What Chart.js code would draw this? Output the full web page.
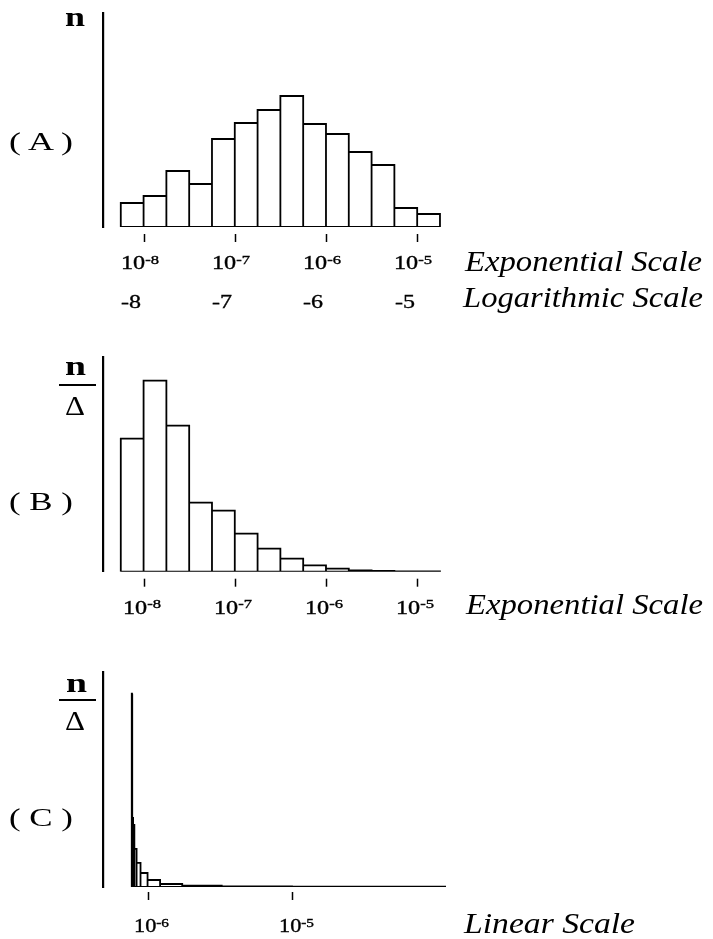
<!DOCTYPE html>
<html><head><meta charset="utf-8">
<script src="https://cdn.jsdelivr.net/npm/chart.js@4.4.1/dist/chart.umd.min.js"></script>
<style>
html,body{margin:0;padding:0;background:#fff;}
#wrap{position:relative;width:713px;height:939px;overflow:hidden;background:#fff;}
.cv{position:absolute;left:0;}
.lbl{position:absolute;white-space:nowrap;line-height:1;color:#000;transform-origin:0 0;font-family:"Liberation Serif","Times New Roman",serif;}
.tk{-webkit-text-stroke:0.35px #000;}
.bar{position:absolute;background:#000;}
</style></head><body>
<div id="wrap">
  <canvas id="cA" class="cv" width="713" height="320" style="top:0px"></canvas>
  <canvas id="cB" class="cv" width="713" height="320" style="top:320px"></canvas>
  <canvas id="cC" class="cv" width="713" height="299" style="top:640px"></canvas>
</div>
<script>
// ---- data ----
// log10 of bin edges (panels A and B)
const binEdgeExps = [-8.25,-8.0,-7.75,-7.5,-7.25,-7.0,-6.75,-6.5,-6.25,-6.0,-5.75,-5.5,-5.25,-5.0,-4.75];
// panel A: counts per bin (n)
const countsA = [24,31,56,43,88,104,117,131,103,93,75,62,19,13];
// panel B: n / Delta per bin
const densityB = [133,191,146,69,61,38,23,13,6.3,3,1.3,0.7,0.3,0.3];
// panel C: bin edges on a linear axis, and n / Delta per bin
const binEdgesC = [1.0e-8,1.78e-8,3.16e-8,5.62e-8,1.0e-7,1.78e-7,3.16e-7,5.62e-7,1.0e-6,1.78e-6,3.16e-6,5.62e-6,1.0e-5,1.78e-5,3.16e-5];
const densityC = [133,193,146,69,62,38,24,14,7,3,1.3,0.7,0.3,0.3];
// ticks
const tickExps = [-8,-7,-6,-5];
const tickSupExp = ['-8','-7','-6','-5'];
const tickLabelsLog = ['-8','-7','-6','-5'];
const tickValuesC = [1e-6,1e-5];
const tickSupC = ['-6','-5'];

function outline(edges, heights){
  const pts = [];
  for (let i=0;i<heights.length;i++){
    pts.push({x:edges[i],y:0},{x:edges[i],y:heights[i]},{x:edges[i+1],y:heights[i]},{x:edges[i+1],y:0});
  }
  pts.push({x:edges[0],y:0});
  return pts;
}

const tickMarks = {
  id:'tickMarks',
  afterDraw(chart, args, o){
    const ctx = chart.ctx, sx = chart.scales.x, y0 = chart.chartArea.bottom;
    ctx.save(); ctx.strokeStyle = '#000'; ctx.lineWidth = 1.5;
    for (const v of o.values){
      const px = Math.round(sx.getPixelForValue(v)) + 0.5;
      ctx.beginPath(); ctx.moveTo(px, y0 + o.gap); ctx.lineTo(px, y0 + o.gap + o.len); ctx.stroke();
    }
    ctx.restore();
  }
};

function makeChart(id, c){
  return new Chart(document.getElementById(id), {
    type:'line',
    data:{datasets:[{data:c.points, borderColor:'#000', borderWidth:1.8, pointRadius:0, fill:false, tension:0}]},
    options:{
      responsive:false, animation:false, events:[],
      layout:{padding:c.padding},
      plugins:{legend:{display:false}, tooltip:{enabled:false}, tickMarks:{values:c.ticks, gap:c.gap, len:8}},
      scales:{
        x:{type:'linear', min:c.xmin, max:c.xmax, grid:{display:false, drawTicks:false}, ticks:{display:false}, border:{display:false}},
        y:{type:'linear', min:0, max:c.ymax, grid:{display:false, drawTicks:false}, ticks:{display:false}, border:{display:true, color:'#000', width:2.2}}
      }
    },
    plugins:[tickMarks]
  });
}

const chA = makeChart('cA', {points:outline(binEdgeExps, countsA), padding:{left:103, right:266, top:13, bottom:93},
  xmin:-8.445, xmax:-4.673, ymax:214, ticks:tickExps, gap:7});
const chB = makeChart('cB', {points:outline(binEdgeExps, densityB), padding:{left:103, right:266, top:36.7, bottom:68.3},
  xmin:-8.445, xmax:-4.673, ymax:215, ticks:tickExps, gap:7});
const chC = makeChart('cC', {points:outline(binEdgesC, densityC), padding:{left:103, right:267, top:31.7, bottom:52},
  xmin:-1.776e-6, xmax:1.9595e-5, ymax:215, ticks:tickValuesC, gap:5});

// ---- text ----
const wrap = document.getElementById('wrap');
function addText(html, o){
  const d = document.createElement('div');
  d.className = 'lbl' + (o.cls ? ' ' + o.cls : '');
  d.style.fontSize = o.size + 'px';
  if (o.weight) d.style.fontWeight = o.weight;
  if (o.italic) d.style.fontStyle = 'italic';
  d.innerHTML = '<span>' + html + '</span><span style="display:inline-block;width:0;height:0;vertical-align:baseline"></span>';
  d.style.left = '0px'; d.style.top = '0px';
  wrap.appendChild(d);
  const t = d.firstChild, b = d.lastChild;
  const w = t.getBoundingClientRect().width;
  const base = b.offsetTop;
  const sx = o.width ? o.width / w : 1;
  const W = w * sx;
  let left = o.x;
  if (o.align === 'center') left = o.x - W / 2;
  else if (o.align === 'right') left = o.x - W;
  d.style.left = left + 'px';
  d.style.top = (o.y - base) + 'px';
  d.style.transform = 'scaleX(' + sx + ')';
}
function hbar(x, y, w, h){
  const d = document.createElement('div'); d.className = 'bar';
  d.style.left = x + 'px'; d.style.top = y + 'px'; d.style.width = w + 'px'; d.style.height = h + 'px';
  wrap.appendChild(d);
}
function sup(base, s){ return base + '<span style="font-size:13px;position:relative;top:-5.5px">' + s + '</span>'; }

// Panel A
addText('n', {x:65, y:26, size:28, weight:'bold', width:20});
addText('( A )', {x:9, y:149.5, size:26, width:64});
tickExps.forEach((v,i)=>{
  const px = chA.scales.x.getPixelForValue(v);
  addText(sup('10', tickSupExp[i]), {x:px-4, y:269, size:19, width:38, align:'center', cls:'tk'});
  addText(tickLabelsLog[i], {x:px-22.5, y:307.5, size:19, width:20, cls:'tk'});
});
addText('Exponential Scale', {x:465, y:271, size:30, italic:true, width:237});
addText('Logarithmic Scale', {x:463, y:307, size:30, italic:true, width:240});

// Panel B
addText('n', {x:65, y:375, size:28, weight:'bold', width:21});
hbar(59, 384, 37, 2);
addText('\u0394', {x:65, y:415, size:27, width:20});
addText('( B )', {x:9, y:510, size:26, width:64});
tickExps.forEach((v,i)=>{
  const px = chB.scales.x.getPixelForValue(v);
  addText(sup('10', tickSupExp[i]), {x:px-2, y:613.5, size:19, width:38, align:'center', cls:'tk'});
});
addText('Exponential Scale', {x:466, y:614, size:30, italic:true, width:237});

// Panel C
addText('n', {x:66, y:691.5, size:28, weight:'bold', width:21});
hbar(59, 698.5, 37, 2);
addText('\u0394', {x:65, y:730, size:27, width:20});
addText('( C )', {x:9, y:826, size:26, width:64});
tickValuesC.forEach((v,i)=>{
  const px = chC.scales.x.getPixelForValue(v);
  addText(sup('10', tickSupC[i]), {x:px+4, y:932, size:19, width:35, align:'center', cls:'tk'});
});
addText('Linear Scale', {x:463.5, y:933, size:30, italic:true, width:171});
</script>
</body></html>
